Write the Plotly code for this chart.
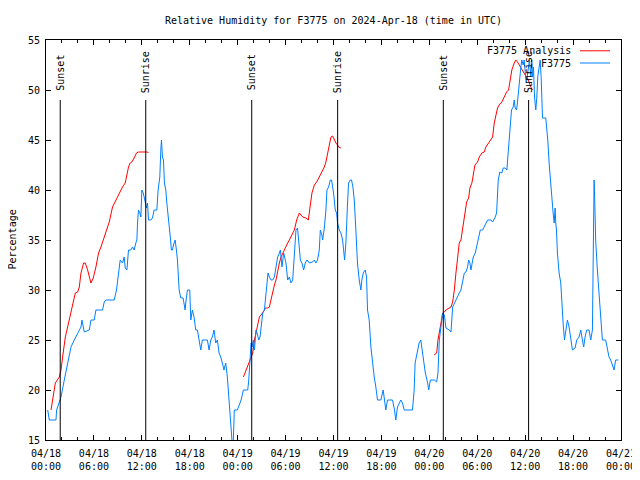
import pandas as pd
import plotly.graph_objects as go

BASE = pd.Timestamp("2024-04-18 00:00")

# Station observations (F3775): hours since 04/18 00:00 UTC, relative humidity (%)
obs_hours = [0.21, 0.42, 1.25, 1.33, 1.75, 1.88, 2.29, 2.71, 3.13, 3.54, 3.96, 4.38, 4.5, 4.79, 5.42, 5.63,
             6.04, 6.25, 7.08, 7.29, 7.5, 8.54, 8.83, 9.08, 9.29, 9.58, 9.79, 9.92, 10.13, 10.33, 10.63,
             10.83, 11.04, 11.25, 11.38, 11.46, 11.58, 11.75, 11.88, 12.0, 12.17, 12.29, 12.42, 12.58,
             12.71, 12.83, 13.13, 13.33, 13.54, 13.88, 14.04, 14.25, 14.38, 14.46, 14.58, 14.71, 14.83,
             15.0, 15.13, 15.33, 15.5, 15.6, 15.7, 15.83, 15.96, 16.17, 16.33, 16.46, 16.67, 16.88, 17.17,
             17.42, 17.5, 17.71, 18.0, 18.13, 18.33, 18.54, 18.75, 18.96, 19.17, 19.38, 19.58, 20.21,
             20.42, 20.63, 20.83, 21.04, 21.25, 21.46, 21.67, 21.88, 22.08, 22.29, 22.5, 22.71, 22.92,
             23.13, 23.25, 23.33, 23.46, 23.58, 23.96, 24.22, 24.43, 24.72, 25.26, 25.39, 25.55, 25.68,
             25.8, 25.97, 26.1, 26.3, 26.43, 26.64, 26.8, 26.93, 27.14, 27.35, 27.47, 27.64, 27.8, 27.97,
             28.18, 28.39, 28.6, 28.8, 29.01, 29.22, 29.35, 29.55, 29.76, 30.05, 30.26, 30.47, 30.68,
             30.89, 31.1, 31.3, 31.5, 31.64, 31.85, 32.05, 32.26, 32.47, 32.68, 32.97, 33.39, 33.6, 33.8,
             34.0, 34.22, 34.35, 34.55, 34.64, 34.85, 35.05, 35.18, 35.39, 35.6, 35.76, 35.89, 36.01,
             36.22, 36.39, 36.51, 36.72, 36.93, 37.14, 37.39, 37.55, 37.76, 37.89, 38.1, 38.26, 38.43,
             38.6, 38.8, 39.0, 39.22, 39.43, 39.55, 39.72, 39.97, 40.14, 40.26, 40.47, 40.68, 40.89,
             41.1, 41.3, 41.51, 41.93, 42.22, 42.39, 42.55, 42.76, 43.39, 43.64, 43.8, 44.01, 44.22,
             44.43, 44.64, 44.85, 45.89, 46.1, 46.22, 46.51, 46.72, 46.93, 47.08, 47.25, 47.5, 47.79,
             47.92, 48.13, 48.63, 48.92, 49.08, 49.25, 49.46, 49.67, 49.88, 50.08, 50.5, 50.71, 50.92,
             51.13, 51.33, 51.54, 51.75, 51.96, 52.17, 52.38, 52.58, 52.79, 52.92, 53.08, 53.21, 53.33,
             53.5, 53.75, 53.92, 54.17, 54.38, 54.67, 54.88, 55.08, 55.29, 55.71, 55.92, 56.25, 56.42,
             56.63, 56.83, 57.08, 57.25, 57.5, 57.71, 57.83, 58.0, 58.13, 58.29, 58.5, 58.63, 58.75,
             58.92, 59.04, 59.17, 59.33, 59.46, 59.58, 59.75, 59.88, 60.0, 60.13, 60.25, 60.42, 60.54,
             60.71, 60.83, 60.92, 61.04, 61.17, 61.33, 61.46, 61.58, 61.75, 61.88, 62.0, 62.17, 62.58,
             62.71, 62.83, 63.0, 63.17, 63.33, 63.5, 63.63, 63.75, 63.83, 63.92, 64.04, 64.25, 64.46,
             64.58, 64.75, 64.92, 65.08, 65.29, 65.5, 65.71, 65.92, 66.25, 66.46, 66.75, 66.96, 67.17,
             67.33, 67.5, 67.71, 68.0, 68.21, 68.42, 68.5, 68.63, 68.71, 68.83, 69.04, 69.25, 69.46,
             69.67, 70.08, 70.29, 70.5, 70.71, 70.92, 71.13, 71.33, 71.67]
obs_rh = [18, 17, 17, 18, 19, 19.3, 21, 22.7, 24.3, 25, 25.7, 26.3, 27, 25.8, 26, 27,
          27, 28, 28, 28.8, 29, 29, 30, 31.7, 33, 32.7, 33.3, 32.2, 32, 34, 34,
          34.3, 34, 34.7, 35, 36.7, 38, 37.7, 37.3, 40, 39.7, 39.3, 38.7, 38.2,
          38.7, 37, 37, 37.2, 38, 38, 40, 41.3, 44, 45, 43.3, 43, 40.7,
          40, 38.7, 37.3, 36.3, 35, 34, 34, 34.5, 35, 34, 33, 30, 29.2, 29.2,
          28, 28.7, 30, 30, 27, 28, 27.3, 26, 26, 25, 24, 25, 25,
          24, 25, 25.3, 26, 24.7, 25, 23.7, 23.3, 22.7, 22, 22.7, 21.3, 19,
          17, 15.7, 14.5, 15, 18, 18, 18.5, 19, 20, 20, 21, 22.7, 24.7,
          24.3, 25, 24, 26, 25.7, 25, 25.3, 26.3, 27.7, 28, 29, 30.3, 31.7, 31.3,
          31, 31, 31.3, 32.3, 33.3, 33.7, 34, 32.3, 33.7, 32.7, 31, 31.3, 30.7,
          31, 34, 36, 36.2, 35, 33, 32.7, 32, 32.7, 33, 32.7, 32.8, 33, 32.7,
          33, 34, 36, 35.5, 35, 36.2, 38, 40, 40.3, 41, 41, 40.3, 39.7,
          38, 37.7, 36.7, 36, 35.7, 35, 33, 34.7, 38.7, 40.7, 41, 41, 40.3,
          39, 36, 32.7, 31, 30, 31, 31.7, 32, 31.3, 28, 27, 24.3, 22.7,
          21.3, 20.3, 19, 19, 20, 19, 18, 19, 19, 18, 17, 18.3, 18.7,
          19, 18.7, 18, 18, 20, 22.7, 24, 24.7, 25, 24, 23, 21.7, 20.7,
          20, 21, 21, 20.8, 21.7, 25, 26.7, 27.7, 27.5, 26.2, 26, 25.8, 28.3,
          28.7, 29, 29.3, 29.7, 30, 31, 31.7, 31.8, 32.3, 33, 32.7, 32, 32.7,
          33.3, 33.7, 34.3, 35, 36, 36, 36.3, 36.7, 37, 37, 36.8, 37.3, 37.7,
          41, 41.8, 41.7, 42.2, 42.2, 42, 43.3, 45.3, 46.7, 48, 48.3, 49, 48.2,
          48, 48.8, 50.2, 51.3, 52.3, 53, 52.5, 53, 51.3, 50.7, 51.3, 52.3, 53,
          51.3, 53, 51.3, 52.3, 49.3, 48, 49.3, 51.3, 52.3, 53, 51.3, 47.2, 47.2,
          46.3, 45, 42.7, 40.7, 39.2, 37.7, 36.7, 38.2, 36.7, 36, 33.7, 31.7, 30.7,
          28.3, 26.7, 25, 26, 27, 26.3, 25, 24, 24.2, 25, 25.3, 26, 25,
          24.3, 25.3, 26, 26, 25, 26, 32.7, 41, 39, 35, 32, 29.3, 27.3,
          25, 25, 24, 23.3, 23, 22.5, 22, 23, 23]

# Analysis (F3775 Analysis): three daily runs; None separates runs
ana_hours = [0.63, 0.83, 1.17, 1.67, 1.88, 2.08, 2.42, 2.71, 3.0, 3.33, 3.67, 3.96, 4.17, 4.38, 4.71,
             4.92, 5.21, 5.63, 5.92, 6.25, 6.58, 6.88, 7.17, 7.5, 7.92, 8.33, 8.75, 9.17, 9.58, 9.92,
             10.08, 10.33, 10.54, 10.75, 11.04, 11.33, 11.58, 12.0, 12.71, 12.83, None,
             24.72, 25.05, 25.39, 25.68, 25.89, 26.1, 26.3, 26.51, 26.72, 26.93, 27.14, 27.35, 27.47,
             27.76, 27.97, 28.18, 28.39, 28.6, 28.8, 29.01, 29.22, 29.43, 29.64, 30.05, 30.26, 30.47,
             30.68, 31.1, 31.39, 31.72, 32.14, 32.55, 32.85, 33.05, 33.3, 33.6, 33.89, 34.22, 34.55,
             34.85, 35.05, 35.26, 35.47, 35.68, 35.89, 36.1, 36.3, 36.51, 36.64, 36.93, None,
             48.6, 48.92, 49.08, 49.25, 49.46, 49.67, 49.88, 50.08, 50.42, 50.71, 50.92, 51.13, 51.33,
             51.54, 51.75, 51.96, 52.17, 52.29, 52.5, 52.67, 52.92, 53.08, 53.33, 53.54, 53.71, 54.04,
             54.25, 54.58, 54.88, 55.08, 55.38, 55.63, 55.92, 56.13, 56.33, 56.54, 56.75, 57.08, 57.38,
             57.67, 57.92, 58.08, 58.33, 58.63, 58.83, 59.04, 59.25, 59.46, 59.67, 60.0, 60.29, 60.5,
             60.71, 60.92]
ana_rh = [18, 19, 20.7, 21.3, 22, 23.3, 25.3, 26.3, 27.3, 28.3, 29.7, 29.8, 30.3, 31.7, 32.7,
          32.7, 32, 30.7, 31.2, 32.3, 33.7, 34.3, 35, 36, 36.8, 38.3, 39, 39.7, 40.3, 40.7,
          41.3, 42.3, 42.7, 42.8, 43.2, 43.7, 43.8, 43.8, 43.8, 43.7, None,
          21.3, 22, 22.7, 23.3, 23.7, 25, 25.7, 26.3, 27.3, 27.5, 27.7, 28, 28.2,
          28.2, 28.3, 29, 30, 30.5, 31, 32, 32.7, 33.3, 33.7, 34.3, 34.7, 35,
          35.3, 36, 37, 37.7, 37.3, 37.2, 37, 38.3, 39.7, 40.5, 40.8, 41.3, 41.8,
          42.3, 42.8, 43.7, 44.5, 45.3, 45.4, 45, 44.7, 44.5, 44.3, 44.2, None,
          23.5, 23.7, 25, 26, 26.7, 27.7, 27.8, 28, 28.2, 28.3, 28.8, 30, 31.7,
          33.3, 34.7, 35, 36, 36.7, 38, 38.8, 39.2, 40.2, 40.7, 42, 42.5, 42.8,
          43.3, 43.7, 43.8, 44.3, 44.7, 45, 45.3, 46.7, 47.3, 48.2, 48.5, 48.8, 49.3,
          49.8, 50, 51, 52, 52.7, 53, 52.8, 52.5, 52.2, 52, 51.5, 51.2, 50.7,
          50.3, 50]

# Sun events (hours since 04/18 00:00 UTC)
sun_hours = [1.78, 12.49, 25.76, 36.52, 49.75, 60.43]
sun_labels = ["Sunset", "Sunrise", "Sunset", "Sunrise", "Sunset", "Sunrise"]

# Axis ticks
tick_hours = list(range(0, 73, 6))
tick_text = ["04/18<br>00:00", "04/18<br>06:00", "04/18<br>12:00", "04/18<br>18:00",
             "04/19<br>00:00", "04/19<br>06:00", "04/19<br>12:00", "04/19<br>18:00",
             "04/20<br>00:00", "04/20<br>06:00", "04/20<br>12:00", "04/20<br>18:00",
             "04/21<br>00:00"]


def to_time(hours):
    return [None if h is None else BASE + pd.Timedelta(hours=h) for h in hours]


FONT = "DejaVu Sans Mono"
RED = "#ff0000"
BLUE = "#0080ff"

# The page body adds an 8px offset; the figure is sized so the plot area lands at
# x 46..621, y 40..440 in the 640x480 window without making the page scroll vertically.
FIG_W, FIG_H = 632, 464

fig = go.Figure()
fig.add_trace(go.Scatter(x=to_time(ana_hours), y=ana_rh, mode="lines", name="F3775 Analysis",
                         line=dict(color=RED, width=1), connectgaps=False))
fig.add_trace(go.Scatter(x=to_time(obs_hours), y=obs_rh, mode="lines", name="F3775",
                         line=dict(color=BLUE, width=1)))

for h, lab in zip(sun_hours, sun_labels):
    t = BASE + pd.Timedelta(hours=h)
    fig.add_shape(type="line", xref="x", yref="y", x0=t, x1=t, y0=15, y1=49,
                  line=dict(color="black", width=1))
    fig.add_annotation(x=t, y=51.75, xref="x", yref="y", text=lab, textangle=-90,
                       showarrow=False, xanchor="center", yanchor="middle",
                       font=dict(family=FONT, size=10, color="black"))

# gnuplot-style legend: text then sample line, top right
legend_rows = [("F3775 Analysis", RED, 0.973), ("F3775", BLUE, 0.9425)]
for txt, col, yy in legend_rows:
    fig.add_annotation(x=0.9165, y=yy, xref="paper", yref="paper", text=txt, showarrow=False,
                       xanchor="right", yanchor="middle",
                       font=dict(family=FONT, size=10, color="black"))
    fig.add_shape(type="line", xref="paper", yref="paper", x0=0.9287, x1=0.9809, y0=yy, y1=yy,
                  line=dict(color=col, width=1))

fig.add_annotation(x=-0.06, y=0.5, xref="paper", yref="paper", text="Percentage", textangle=-90,
                   showarrow=False, xanchor="center", yanchor="middle",
                   font=dict(family=FONT, size=10, color="black"))

fig.update_layout(
    width=FIG_W, height=FIG_H,
    margin=dict(l=38, r=FIG_W + 8 - 621, t=32, b=FIG_H + 8 - 440),
    paper_bgcolor="white", plot_bgcolor="white",
    showlegend=False,
    font=dict(family=FONT, size=10, color="black"),
    title=dict(text="Relative Humidity for F3775 on 2024-Apr-18 (time in UTC)",
               x=0.5, xref="paper", y=1 - 12 / FIG_H, yanchor="middle",
               font=dict(family=FONT, size=10, color="black")),
)
fig.update_xaxes(
    range=[BASE, BASE + pd.Timedelta(hours=72)],
    tickvals=to_time(tick_hours), ticktext=tick_text,
    ticks="inside", ticklen=5, tickcolor="black", tickwidth=1,
    minor=dict(dtick=2 * 3600 * 1000, ticks="inside", ticklen=3, tickcolor="black", tickwidth=1),
    showline=True, linecolor="black", linewidth=1, mirror="allticks",
    showgrid=False, zeroline=False, automargin=False,
    ticklabelstandoff=4,
    tickfont=dict(family=FONT, size=10, color="black"),
)
fig.update_yaxes(
    range=[15, 55], tickvals=list(range(15, 56, 5)),
    ticks="inside", ticklen=5, tickcolor="black", tickwidth=1,
    showline=True, linecolor="black", linewidth=1, mirror="allticks",
    showgrid=False, zeroline=False, automargin=False,
    ticklabelstandoff=3,
    tickfont=dict(family=FONT, size=10, color="black"),
)

fig.write_html("out.html")
